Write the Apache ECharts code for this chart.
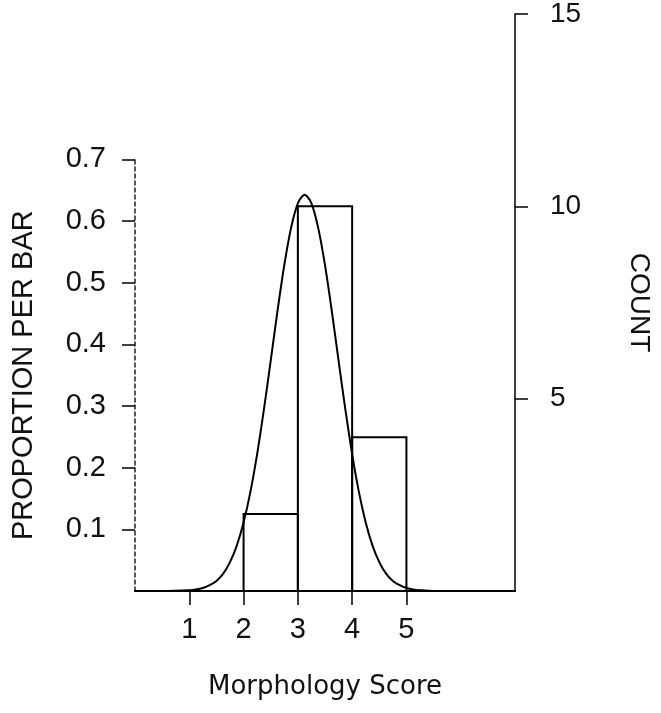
<!DOCTYPE html>
<html>
<head>
<meta charset="utf-8">
<script src="https://cdn.jsdelivr.net/npm/echarts@6/dist/echarts.min.js"></script>
<style>html,body{margin:0;padding:0;background:#fff;}#c{width:661px;height:713px;}</style>
</head>
<body>
<div id="c"></div>
<script>
// ---- data ----
var binStarts = [2, 3, 4];
var binEnds   = [3, 4, 5];
var counts    = [2, 10, 4];
var xTicks    = [1, 2, 3, 4, 5];
var countTicks = [5, 10, 15];
var propTicks  = [0.1, 0.2, 0.3, 0.4, 0.5, 0.6, 0.7];
// fitted normal curve (x, count)
var curveX = [0, 0.5, 1.0, 1.125, 1.25, 1.375, 1.5, 1.625, 1.75, 1.875, 2.0, 2.125, 2.25, 2.375, 2.5, 2.625, 2.75, 2.875, 3.0, 3.125,
              3.25, 3.375, 3.5, 3.625, 3.75, 3.875, 4.0, 4.125, 4.25, 4.375, 4.5, 4.625, 4.75, 4.875, 5.0, 5.125, 5.25, 5.5, 6.0];
var curveY = [0, 0, 0.02, 0.04, 0.08, 0.15, 0.26, 0.45, 0.75, 1.18, 1.78, 2.57, 3.56, 4.72, 5.99, 7.28, 8.47, 9.44, 10.08, 10.3,
              10.08, 9.44, 8.47, 7.28, 5.99, 4.72, 3.56, 2.57, 1.78, 1.18, 0.75, 0.45, 0.26, 0.15, 0.08, 0.04, 0.02, 0, 0];

// ---- layout ----
var G_LEFT = 135, G_RIGHT = 141, G_TOP = 13, G_BOTTOM = 122, H = 713;
var COUNT_MAX = 15, N = 16, PROP_MAX = 0.7;
var plotH = H - G_TOP - G_BOTTOM;
var grid2Top = G_TOP + (COUNT_MAX - PROP_MAX * N) * plotH / COUNT_MAX;

var bars = binStarts.map(function (s, i) { return [s, binEnds[i], counts[i]]; });
var curve = curveX.map(function (x, i) { return [x, curveY[i]]; });

var FONT = 'Liberation Sans, Arial, sans-serif';
var chart = echarts.init(document.getElementById('c'), null, {renderer: 'canvas'});
chart.setOption({
  animation: false,
  backgroundColor: '#fff',
  grid: [
    {left: G_LEFT, right: G_RIGHT, top: G_TOP, bottom: G_BOTTOM},
    {left: G_LEFT, right: G_RIGHT, top: grid2Top, bottom: G_BOTTOM}
  ],
  xAxis: [
    {
      type: 'value', gridIndex: 0, min: 0, max: 7,
      name: 'Morphology Score', nameLocation: 'middle', nameGap: 83,
      nameTextStyle: {fontFamily: 'DejaVu Sans', fontSize: 26, color: '#111'},
      axisLine: {show: true, onZero: false, lineStyle: {color: '#000', width: 2}},
      axisTick: {show: true, length: 14, customValues: xTicks, lineStyle: {color: '#000', width: 1.5}},
      axisLabel: {show: true, customValues: xTicks, margin: 24, fontFamily: FONT, fontSize: 29, color: '#111'},
      splitLine: {show: false}
    },
    {
      type: 'value', gridIndex: 1, min: 0, max: 7, show: false
    }
  ],
  yAxis: [
    {
      type: 'value', gridIndex: 0, position: 'right', min: 0, max: COUNT_MAX,
      name: 'COUNT', nameLocation: 'middle', nameRotate: -90, nameGap: 110,
      nameTextStyle: {fontFamily: FONT, fontSize: 28, color: '#111'},
      axisLine: {show: true, onZero: false, lineStyle: {color: '#000', width: 1.5}},
      axisTick: {show: true, length: 13, customValues: countTicks, lineStyle: {color: '#000', width: 1.5}},
      axisLabel: {show: true, customValues: countTicks, margin: 35, fontFamily: FONT, fontSize: 28, color: '#111'},
      splitLine: {show: false}
    },
    {
      type: 'value', gridIndex: 1, position: 'left', min: 0, max: PROP_MAX,
      name: 'PROPORTION PER BAR', nameLocation: 'middle', nameRotate: 90, nameGap: 97,
      nameTextStyle: {fontFamily: FONT, fontSize: 29, color: '#111'},
      axisLine: {show: true, onZero: false, lineStyle: {color: '#222', width: 1.5, type: [4, 3]}},
      axisTick: {show: true, length: 13, customValues: propTicks, lineStyle: {color: '#000', width: 1.5}},
      axisLabel: {show: true, customValues: propTicks, margin: 29, fontFamily: FONT, fontSize: 29, color: '#111',
                  formatter: function (v) { return v.toFixed(1); }},
      splitLine: {show: false}
    }
  ],
  series: [
    {
      type: 'custom', xAxisIndex: 0, yAxisIndex: 0, data: bars,
      renderItem: function (params, api) {
        var p0 = api.coord([api.value(0), api.value(2)]);
        var p1 = api.coord([api.value(1), 0]);
        return {
          type: 'rect',
          shape: {x: p0[0], y: p0[1], width: p1[0] - p0[0], height: p1[1] - p0[1]},
          style: {fill: 'none', stroke: '#000', lineWidth: 2}
        };
      }
    },
    {
      type: 'line', xAxisIndex: 0, yAxisIndex: 0, data: curve, smooth: 0.3,
      showSymbol: false, symbol: 'none',
      lineStyle: {color: '#000', width: 2}
    }
  ]
});
</script>
</body>
</html>
